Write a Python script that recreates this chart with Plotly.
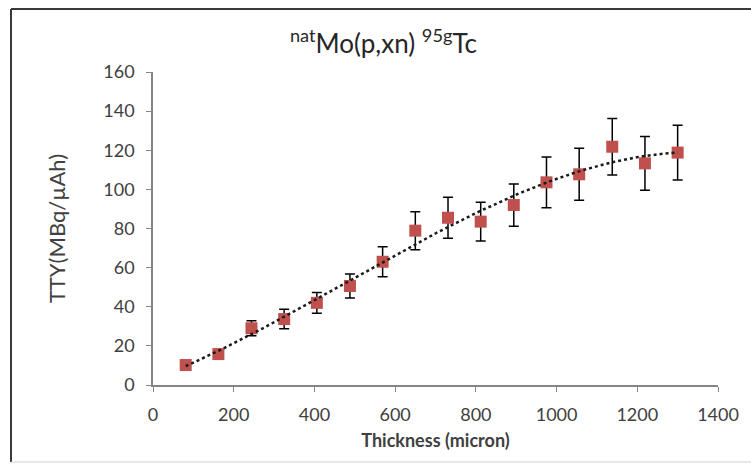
import numpy as np
import plotly.graph_objects as go

# Data
thickness = [81, 162, 244, 325, 406, 488, 569, 650, 731, 812, 894, 975, 1056, 1138, 1219, 1300]
tty = [10.2, 15.8, 29.0, 33.7, 42.0, 50.6, 63.0, 78.9, 85.5, 83.5, 92.0, 103.6, 107.7, 121.8, 113.3, 118.8]
tty_err = [1.0, 1.5, 3.8, 5.0, 5.3, 6.1, 7.7, 9.7, 10.5, 9.9, 10.8, 13.0, 13.3, 14.4, 13.7, 14.0]
x_ticks = [0, 200, 400, 600, 800, 1000, 1200, 1400]
y_ticks = [0, 20, 40, 60, 80, 100, 120, 140, 160]

# Polynomial (order 3) trendline fitted to the data, as in the spreadsheet chart
coef = np.polyfit(thickness, tty, 3)
xfit = np.linspace(min(thickness), max(thickness), 200)
yfit = np.polyval(coef, xfit)

FONT = "Lato, 'Open Sans', sans-serif"
TXT = "#404040"
AX = "#868686"

W, H = 751, 465
L, R, T, B = 153, 29, 72, 80
pw, ph = W - L - R, H - T - B


def px_x(p):
    return (p - L) / pw


def px_y(p):
    return (H - B - p) / ph


fig = go.Figure()
fig.add_trace(go.Scatter(
    x=thickness, y=tty, mode="markers",
    marker=dict(symbol="square", size=12, color="#C0504D"),
    error_y=dict(type="data", array=tty_err, visible=True, color="black", thickness=1.5, width=5),
    showlegend=False, hoverinfo="x+y",
))
fig.add_trace(go.Scatter(
    x=xfit, y=yfit, mode="lines",
    line=dict(color="#1a1a1a", width=2.5, dash="dot"),
    showlegend=False, hoverinfo="skip",
))

fig.update_layout(
    width=W, height=H,
    margin=dict(l=L, r=R, t=T, b=B),
    paper_bgcolor="white", plot_bgcolor="white",
    font=dict(family=FONT, color=TXT, size=17),
    title=dict(text="<sup>nat</sup>Mo(p,xn) <sup>95g</sup>Tc", x=(285 + 482) / 2 / W, xanchor="center",
               y=1 - 44 / H, yanchor="middle", font=dict(size=26, color="#262626", family=FONT)),
    xaxis=dict(range=[0, 1400], tickvals=x_ticks, showgrid=False, zeroline=False,
               showline=True, linecolor=AX, linewidth=1.5, ticks="outside", ticklen=5,
               tickcolor=AX, tickwidth=1.3, tickfont=dict(size=18, color=TXT),
               ticklabelstandoff=8,
               title=dict(text="<b>Thickness (micron)</b>", font=dict(size=18, color=TXT), standoff=10)),
    yaxis=dict(range=[0, 160], tickvals=y_ticks, showgrid=False, zeroline=False,
               showline=True, linecolor=AX, linewidth=1.5, ticks="outside", ticklen=5,
               tickcolor=AX, tickwidth=1.3, tickfont=dict(size=18, color=TXT),
               ticklabelstandoff=8,
               title=dict(text="TTY(MBq/µAh)", font=dict(size=22, color=TXT), standoff=32)),
    shapes=[
        # outer chart frame: top and left dark, bottom faint, right edge outside the picture
        dict(type="line", xref="paper", yref="paper", x0=px_x(10), x1=px_x(760), y0=px_y(9), y1=px_y(9),
             line=dict(color="#3a3a3a", width=2), layer="below"),
        dict(type="line", xref="paper", yref="paper", x0=px_x(10), x1=px_x(10), y0=px_y(9), y1=px_y(462),
             line=dict(color="#3a3a3a", width=2), layer="below"),
        dict(type="line", xref="paper", yref="paper", x0=px_x(10), x1=px_x(760), y0=px_y(462), y1=px_y(462),
             line=dict(color="#d0d0d0", width=1), layer="below"),
    ],
)

fig.write_html("out.html",
               config={"displayModeBar": False},
               post_script="document.body.style.margin='0';document.body.style.padding='0';"
                           "document.documentElement.style.overflow='hidden';")
